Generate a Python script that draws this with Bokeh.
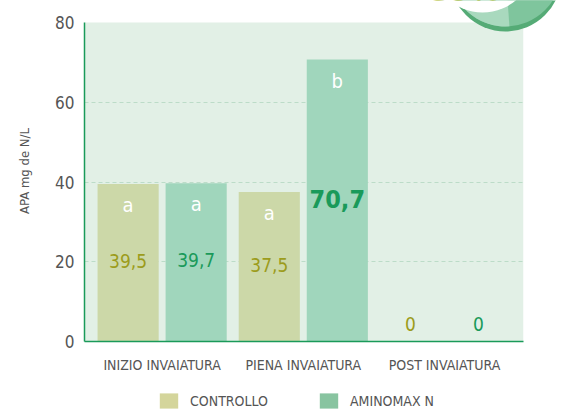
import math
from bokeh.plotting import figure
from bokeh.layouts import column
from bokeh.models import (Range1d, FixedTicker, Legend, LegendItem, ColumnDataSource,
                          BoxAnnotation)
from bokeh.core.properties import value
from bokeh.transform import dodge
from bokeh.embed import file_html
from bokeh.resources import INLINE

# ---- data ----
categories = ["INIZIO INVAIATURA", "PIENA INVAIATURA", "POST INVAIATURA"]
series = ["CONTROLLO", "AMINOMAX N"]
controllo = [39.5, 37.5, 0]
aminomax = [39.7, 70.7, 0]
controllo_letters = ["a", "a", ""]
aminomax_letters = ["a", "b", ""]
controllo_labels = ["39,5", "37,5", "0"]
aminomax_labels = ["39,7", "70,7", "0"]
y_ticks = [0, 20, 40, 60, 80]
y_max = 80

FONT = "DejaVu Sans Condensed"
BG = "#e2f0e6"
C_CTRL = "#ccd8a8"
C_AMX = "#a0d6bc"
C_CTRL_LEG = "#d4d59b"
C_AMX_LEG = "#88c4a0"
T_OLIVE = "#9c9c1c"
T_GREEN = "#1a9a5a"
GRAY = "#555555"

# ---- layout geometry (pixels) ----
W, H1, H2 = 560, 380, 30
F_LEFT, F_BOTTOM = 84, 341          # frame left / bottom
PLOT_RIGHT, PLOT_TOP = 523, 22      # visible (green) plot area
X0, X1 = -0.55, 2.56                # data x at plot left / plot right
px_per_x = (PLOT_RIGHT - F_LEFT) / (X1 - X0)
px_per_y = (F_BOTTOM - PLOT_TOP) / y_max
x_end = X0 + (W - F_LEFT) / px_per_x
y_end = y_max + PLOT_TOP / px_per_y


def sx(px):
    return X0 + (px - F_LEFT) / px_per_x


def sy(py):
    return (F_BOTTOM - py) / px_per_y


idx = list(range(len(categories)))
src_c = ColumnDataSource(dict(x=idx, top=controllo, letter=controllo_letters))
src_a = ColumnDataSource(dict(x=idx, top=aminomax, letter=aminomax_letters))

p = figure(width=W, height=H1, output_backend="svg", toolbar_location=None,
           x_range=Range1d(X0, x_end), y_range=Range1d(0, y_end),
           min_border_left=F_LEFT, min_border_right=0, min_border_top=0,
           min_border_bottom=H1 - F_BOTTOM)
p.background_fill_color = "white"
p.border_fill_color = "white"
p.outline_line_color = None

# green plot area
p.add_layout(BoxAnnotation(left=X0, right=X1, bottom=0, top=y_max, fill_color=BG,
                           fill_alpha=1, line_color=None, level="image"))

p.xgrid.grid_line_color = None
p.ygrid.grid_line_color = "#bcdcc8"
p.ygrid.grid_line_dash = "4 3"
p.ygrid.grid_line_width = 1
p.ygrid.ticker = FixedTicker(ticks=y_ticks[1:-1])
# hide grid lines outside the plot area
p.add_layout(BoxAnnotation(left=X1, bottom=0, top=y_max, fill_color="white",
                           fill_alpha=1, line_color=None, level="underlay"))

off = 0.241
w = 0.433
p.vbar(x=dodge("x", -off, range=p.x_range), top="top", width=w, source=src_c,
       fill_color=C_CTRL, line_color=None)
p.vbar(x=dodge("x", off, range=p.x_range), top="top", width=w, source=src_a,
       fill_color=C_AMX, line_color=None)

# decorative logo fragment (top right), cut by the page edge
p.circle(x=[sx(505)], y=[sy(-25)], radius=56, radius_units="screen",
         fill_color="#55ab76", line_color=None)
p.circle(x=[sx(505)], y=[sy(-30)], radius=56, radius_units="screen",
         fill_color="#7fc59d", line_color=None)
p.wedge(x=[sx(505)], y=[sy(-30)], radius=56, radius_units="screen",
        start_angle=math.radians(180), end_angle=math.radians(274),
        fill_color="#a9d9be", line_color=None)
p.circle(x=[sx(482)], y=[sy(-40)], radius=52, radius_units="screen",
         fill_color="white", line_color=None)
p.text(x=[sx(499)], y=[sy(-11)], text=["39%"], text_align="right",
       text_baseline="middle", text_color="#a4b21e", text_font=value(FONT),
       text_font_size="32px", text_font_style="bold")

# significance letters
for src, o in ((src_c, -off), (src_a, off)):
    p.text(x=dodge("x", o, range=p.x_range), y="top", text="letter", source=src,
           y_offset=21, text_align="center", text_baseline="middle",
           text_color="white", text_font=value(FONT), text_font_size="20px")

# value labels
lab_c = ColumnDataSource(dict(x=[0, 1], y=[controllo[0] / 2, controllo[1] / 2],
                              t=controllo_labels[:2]))
p.text(x=dodge("x", -off, range=p.x_range), y="y", text="t", source=lab_c,
       y_offset=-2, text_align="center", text_baseline="middle", text_color=T_OLIVE,
       text_font=value(FONT), text_font_size="19px")
lab_a = ColumnDataSource(dict(x=[0], y=[aminomax[0] / 2], t=aminomax_labels[:1]))
p.text(x=dodge("x", off, range=p.x_range), y="y", text="t", source=lab_a,
       y_offset=-2, text_align="center", text_baseline="middle", text_color=T_GREEN,
       text_font=value(FONT), text_font_size="19px")
lab_big = ColumnDataSource(dict(x=[1], y=[aminomax[1] / 2], t=aminomax_labels[1:2]))
p.text(x=dodge("x", off, range=p.x_range), y="y", text="t", source=lab_big,
       y_offset=-2, text_align="center", text_baseline="middle", text_color=T_GREEN,
       text_font=value(FONT), text_font_size="25px", text_font_style="bold")
lab_zero_c = ColumnDataSource(dict(x=[2], y=[controllo[2]], t=controllo_labels[2:]))
p.text(x=dodge("x", -off, range=p.x_range), y="y", text="t", source=lab_zero_c,
       y_offset=-18, text_align="center", text_baseline="middle", text_color=T_OLIVE,
       text_font=value(FONT), text_font_size="19px")
lab_zero_a = ColumnDataSource(dict(x=[2], y=[aminomax[2]], t=aminomax_labels[2:]))
p.text(x=dodge("x", off, range=p.x_range), y="y", text="t", source=lab_zero_a,
       y_offset=-18, text_align="center", text_baseline="middle", text_color=T_GREEN,
       text_font=value(FONT), text_font_size="19px")

# axes
p.xaxis.ticker = FixedTicker(ticks=idx)
p.xaxis.major_label_overrides = {i: c for i, c in zip(idx, categories)}
p.xaxis.bounds = (X0, X1)
p.yaxis.ticker = FixedTicker(ticks=y_ticks)
p.yaxis.bounds = (0, y_max)
for ax in (p.xaxis, p.yaxis):
    ax.axis_line_color = T_GREEN
    ax.axis_line_width = 1.5
    ax.major_tick_line_color = None
    ax.major_tick_out = 0
    ax.major_tick_in = 0
    ax.minor_tick_line_color = None
    ax.major_label_text_font = FONT
    ax.major_label_text_color = GRAY
p.xaxis.major_label_text_font_size = "14px"
p.xaxis.major_label_standoff = 15
p.yaxis.major_label_text_font_size = "17px"
p.yaxis.major_label_standoff = 10
p.yaxis.axis_label = "APA mg de N/L"
p.yaxis.axis_label_text_font = FONT
p.yaxis.axis_label_text_font_style = "normal"
p.yaxis.axis_label_text_font_size = "13px"
p.yaxis.axis_label_text_color = GRAY
p.yaxis.axis_label_standoff = 20

# ---- legend strip (second figure; frame aligned with the chart's) ----
p2 = figure(width=W, height=H2, output_backend="svg", toolbar_location=None,
            x_axis_type=None, y_axis_type=None, x_range=Range1d(0, 1),
            y_range=Range1d(0, 1), min_border=0)
p2.outline_line_color = None
p2.background_fill_color = "white"
p2.xgrid.visible = False
p2.ygrid.visible = False
# zero-height proxies: only their legend keys are seen
lc = p2.vbar(x=[0], top=[0], width=0, fill_color=C_CTRL_LEG, line_color=None)
la = p2.vbar(x=[0], top=[0], width=0, fill_color=C_AMX_LEG, line_color=None)
legend = Legend(items=[LegendItem(label=series[0], renderers=[lc]),
                       LegendItem(label=series[1], renderers=[la])],
                orientation="horizontal", location=(73, 0),
                background_fill_alpha=0, border_line_color=None,
                padding=0, margin=0, spacing=49, label_standoff=10,
                glyph_width=23, glyph_height=19,
                label_text_font=FONT, label_text_font_size="14px",
                label_text_color=GRAY)
p2.add_layout(legend, "center")

open("out.html", "w").write(file_html(column(p, p2, spacing=0), INLINE))
